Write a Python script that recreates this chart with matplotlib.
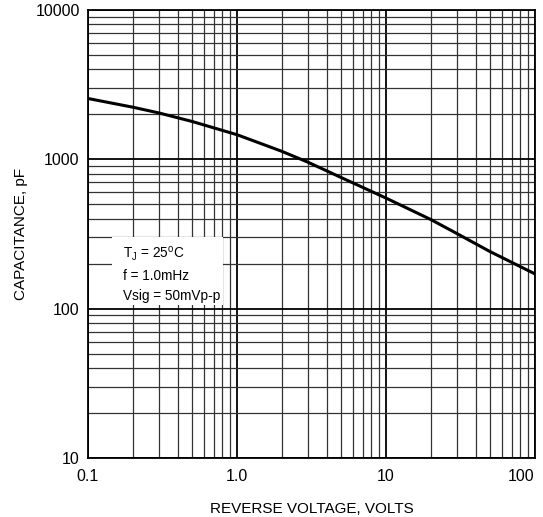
import numpy as np
import matplotlib
matplotlib.use('Agg')
import matplotlib.pyplot as plt
from matplotlib.patches import Rectangle
from matplotlib.ticker import LogLocator, FixedLocator, NullFormatter

plt.rcParams['font.family'] = ['Liberation Sans', 'DejaVu Sans']
plt.rcParams['mathtext.fontset'] = 'custom'
plt.rcParams['mathtext.rm'] = 'Liberation Sans'

# reverse voltage (V) and capacitance (pF)
voltage = [0.1, 0.2, 0.3, 0.5, 1.0, 2.0, 3.0, 5.0, 10.0, 20.0, 30.0, 50.0, 100.0]
capacitance = [2550, 2230, 2040, 1790, 1460, 1130, 955, 755, 550, 395, 318, 241, 171]

x_ticks = [0.1, 1.0, 10, 100]
x_labels = ['0.1', '1.0', '10', '100']
y_ticks = [10, 100, 1000, 10000]
y_labels = ['10', '100', '1000', '10000']

fig = plt.figure(figsize=(5.43, 5.17), dpi=100)
ax = fig.add_axes([0.162, 0.114, 0.823, 0.867])

ax.plot(voltage, capacitance, color='black', lw=2.2, zorder=3)

ax.set_xscale('log')
ax.set_yscale('log')
ax.set_xlim(0.1, 100)
ax.set_ylim(10, 10000)

ax.xaxis.set_major_locator(FixedLocator(x_ticks))
ax.set_xticklabels(x_labels)
ax.yaxis.set_major_locator(FixedLocator(y_ticks))
ax.set_yticklabels(y_labels)
ax.xaxis.set_minor_locator(LogLocator(base=10, subs=np.arange(2, 10), numticks=20))
ax.yaxis.set_minor_locator(LogLocator(base=10, subs=np.arange(2, 10), numticks=20))
ax.xaxis.set_minor_formatter(NullFormatter())
ax.yaxis.set_minor_formatter(NullFormatter())

ax.grid(which='major', color='black', lw=1.3)
ax.grid(which='minor', color='#333333', lw=0.9)
ax.tick_params(which='both', length=0, labelsize=11.5)
ax.tick_params(axis='x', pad=8)
ax.tick_params(axis='y', pad=6)
for s in ax.spines.values():
    s.set_linewidth(1.3)

xl = ax.get_xticklabels()
xl[-1].set_ha('right')

ax.set_xlabel('REVERSE VOLTAGE, VOLTS', fontsize=11, labelpad=13)
ax.set_ylabel('CAPACITANCE, pF', fontsize=11, labelpad=5)

# white box behind the conditions text
ax.add_patch(Rectangle((0.054, 0.342), 0.248, 0.152, transform=ax.transAxes,
                       facecolor='white', edgecolor='none', zorder=4))
ax.text(0.078, 0.476, 'T$_\\mathrm{J}$ = 25$^\\mathrm{o}$C\nf = 1.0mHz\nVsig = 50mVp-p',
        transform=ax.transAxes, fontsize=9.8, linespacing=1.55, va='top', ha='left',
        zorder=5)

fig.savefig('out.png', dpi=100)
